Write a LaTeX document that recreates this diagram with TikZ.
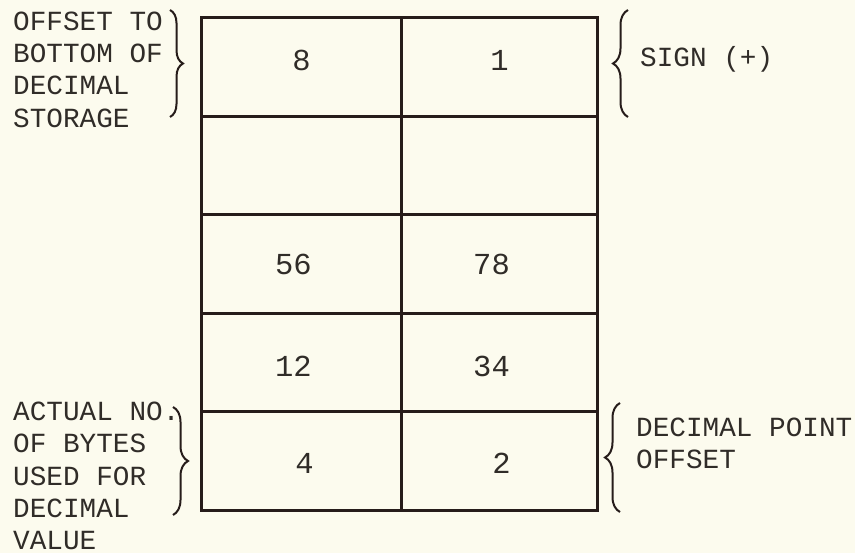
\documentclass[tikz,border=0pt]{standalone}
\usepackage{fontspec}
\setmonofont{Liberation Mono}
\usetikzlibrary{decorations.pathreplacing}
\definecolor{paper}{RGB}{252,251,238}
\definecolor{ink}{RGB}{38,28,26}
\definecolor{txt}{RGB}{48,44,40}
\begin{document}
\begin{tikzpicture}[x=1pt,y=-1pt,
  cell/.style={draw=ink,line width=3pt,minimum height=98.6pt,inner sep=0pt,anchor=north west},
  lbl/.style={font=\ttfamily\fontsize{27.7}{32.3}\selectfont,text=txt,align=left,inner sep=0pt,anchor=west},
  num/.style={font=\ttfamily\fontsize{30.5}{36}\selectfont,text=txt,inner sep=0pt},
  br/.style={draw=ink,line width=2pt,decorate,decoration={brace,amplitude=#1}}]
\fill[paper] (0,0) rectangle (855,553);
\useasboundingbox (0,0) rectangle (855,553);
% grid cells
\foreach \i in {1,...,5}{
  \node[cell,minimum width=200pt] (L\i) at (200,{16+(\i-1)*98.6}) {};
  \node[cell,minimum width=196pt] (R\i) at (400,{16+(\i-1)*98.6}) {};
}
% values
\node[num] (n1l) at ([yshift=6pt]L1.center) {8};
\node[num] (n1r) at ([yshift=6pt]R1.center) {1};
\node[num] (n3l) at ([xshift=-8pt]L3.center) {56};
\node[num] (n3r) at ([xshift=-8pt]R3.center) {78};
\node[num] (n4l) at ([xshift=-8pt,yshift=-4pt]L4.center) {12};
\node[num] (n4r) at ([xshift=-8pt,yshift=-4pt]R4.center) {34};
\node[num] (n5l) at ([xshift=3pt,yshift=-2pt]L5.center) {4};
\node[num] (n5r) at ([xshift=2pt,yshift=-2pt]R5.center) {2};
% labels
\node[lbl] (tl) at (13,69.5) {OFFSET TO\\BOTTOM OF\\DECIMAL\\STORAGE};
\node[lbl] (tr) at (640,59) {SIGN (+)};
\node[lbl] (bl) at (13,476) {ACTUAL NO.\\OF BYTES\\USED FOR\\DECIMAL\\VALUE};
\node[lbl] (brr) at (636,443.5) {DECIMAL POINT\\OFFSET};
% braces
\coordinate (b1a) at (170,10);  \coordinate (b1b) at (170,117);
\coordinate (b2a) at (628,117); \coordinate (b2b) at (628,10);
\coordinate (b3a) at (173,407); \coordinate (b3b) at (173,515);
\coordinate (b4a) at (620,512); \coordinate (b4b) at (620,403);
\draw[br=13pt] (b1a) -- (b1b);
\draw[br=15pt] (b2a) -- (b2b);
\draw[br=15pt] (b3a) -- (b3b);
\draw[br=15pt] (b4a) -- (b4b);
\end{tikzpicture}
\end{document}
